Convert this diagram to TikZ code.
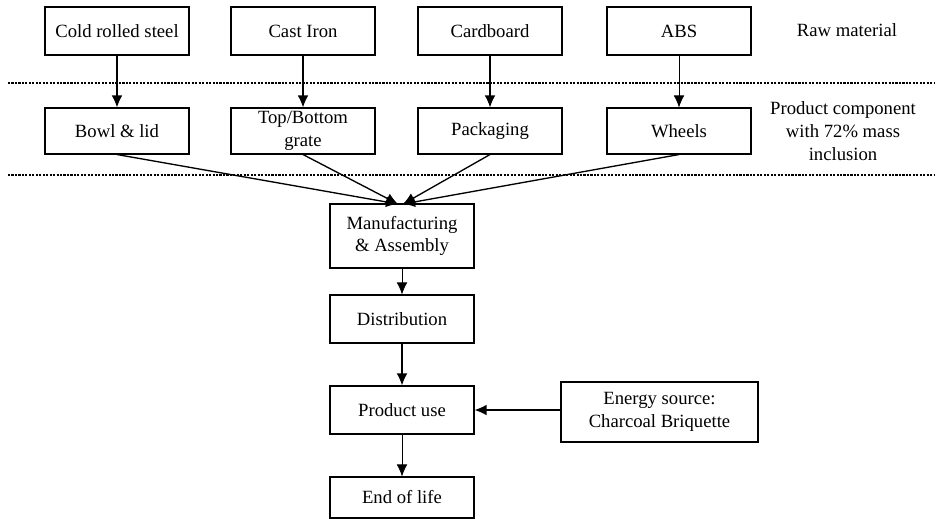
\documentclass[tikz,border=0pt]{standalone}
\usepackage{fontspec}
\setmainfont{Liberation Serif}
\usetikzlibrary{arrows.meta}
\tikzstyle{stage}=[rectangle,
                   draw=black,
                   line width=0.8pt,
                   text centered,
                   align=center,
                   minimum width=108pt,
                   minimum height=36pt,
                   inner sep=2pt
                  ]
\tikzstyle{level}=[draw=black, line width=0.9pt, dash pattern=on 1.6pt off 1pt]
\tikzstyle{flow}=[-{Latex[length=9pt, width=8pt]}, line width=1pt]
\tikzstyle{thinflow}=[-{Latex[length=9pt, width=8pt]}, line width=0.6pt]

\begin{document}
\begin{tikzpicture}[x=0.75pt, y=-0.75pt, font=\fontsize{14}{17}\selectfont]
  \useasboundingbox (0,0) rectangle (937,518);

  % raw materials
  \node at (117, 31) (steel) [stage] {Cold rolled steel};
  \node at (303, 31) (iron) [stage] {Cast Iron};
  \node at (490, 31) (card) [stage] {Cardboard};
  \node at (679, 31) (abs) [stage] {ABS};
  \node at (847, 30) (rawlbl) {Raw material};

  \draw[level] (8, 83) -- (935, 83);

  % product components
  \node at (117, 131) (bowl) [stage, minimum height=34.5pt] {Bowl \& lid};
  \node at (303, 131) (grate) [stage, minimum height=34.5pt] {Top/Bottom\\grate};
  \node at (490, 131) (pack) [stage, minimum height=34.5pt] {Packaging};
  \node at (679, 131) (wheel) [stage, minimum height=34.5pt] {Wheels};
  \node at (843, 131) (complbl) [align=center] {Product component\\with 72\% mass\\inclusion};

  \draw[level] (8, 175) -- (935, 175);

  \draw[flow] (steel.south) -- (bowl.north);
  \draw[flow] (iron.south) -- (grate.north);
  \draw[flow] (card.south) -- (pack.north);
  \draw[thinflow] (abs.south) -- (wheel.north);

  % life cycle
  \node at (402, 236) (manu) [stage, minimum height=48pt] {Manufacturing\\\& Assembly};
  \node at (402, 319) (dist) [stage] {Distribution};
  \node at (402, 410) (use) [stage] {Product use};
  \node at (402, 497.5) (eol) [stage, minimum height=30.75pt] {End of life};
  \node at (659.5, 412) (energy) [stage, minimum width=147.75pt, minimum height=45pt] {Energy source:\\Charcoal Briquette};

  \coordinate (inl) at (398, 204);
  \coordinate (inr) at (403, 204);
  \draw[flow] (bowl.south) -- (inl);
  \draw[flow] (grate.south) -- (inl);
  \draw[flow] (pack.south) -- (inr);
  \draw[flow] (wheel.south) -- (inr);

  \draw[thinflow] (manu.south) -- (dist.north);
  \draw[flow] (dist.south) -- (use.north);
  \draw[thinflow] (use.south) -- (eol.north);
  \draw[flow] (energy.west |- use.east) -- (use.east);
\end{tikzpicture}
\end{document}
